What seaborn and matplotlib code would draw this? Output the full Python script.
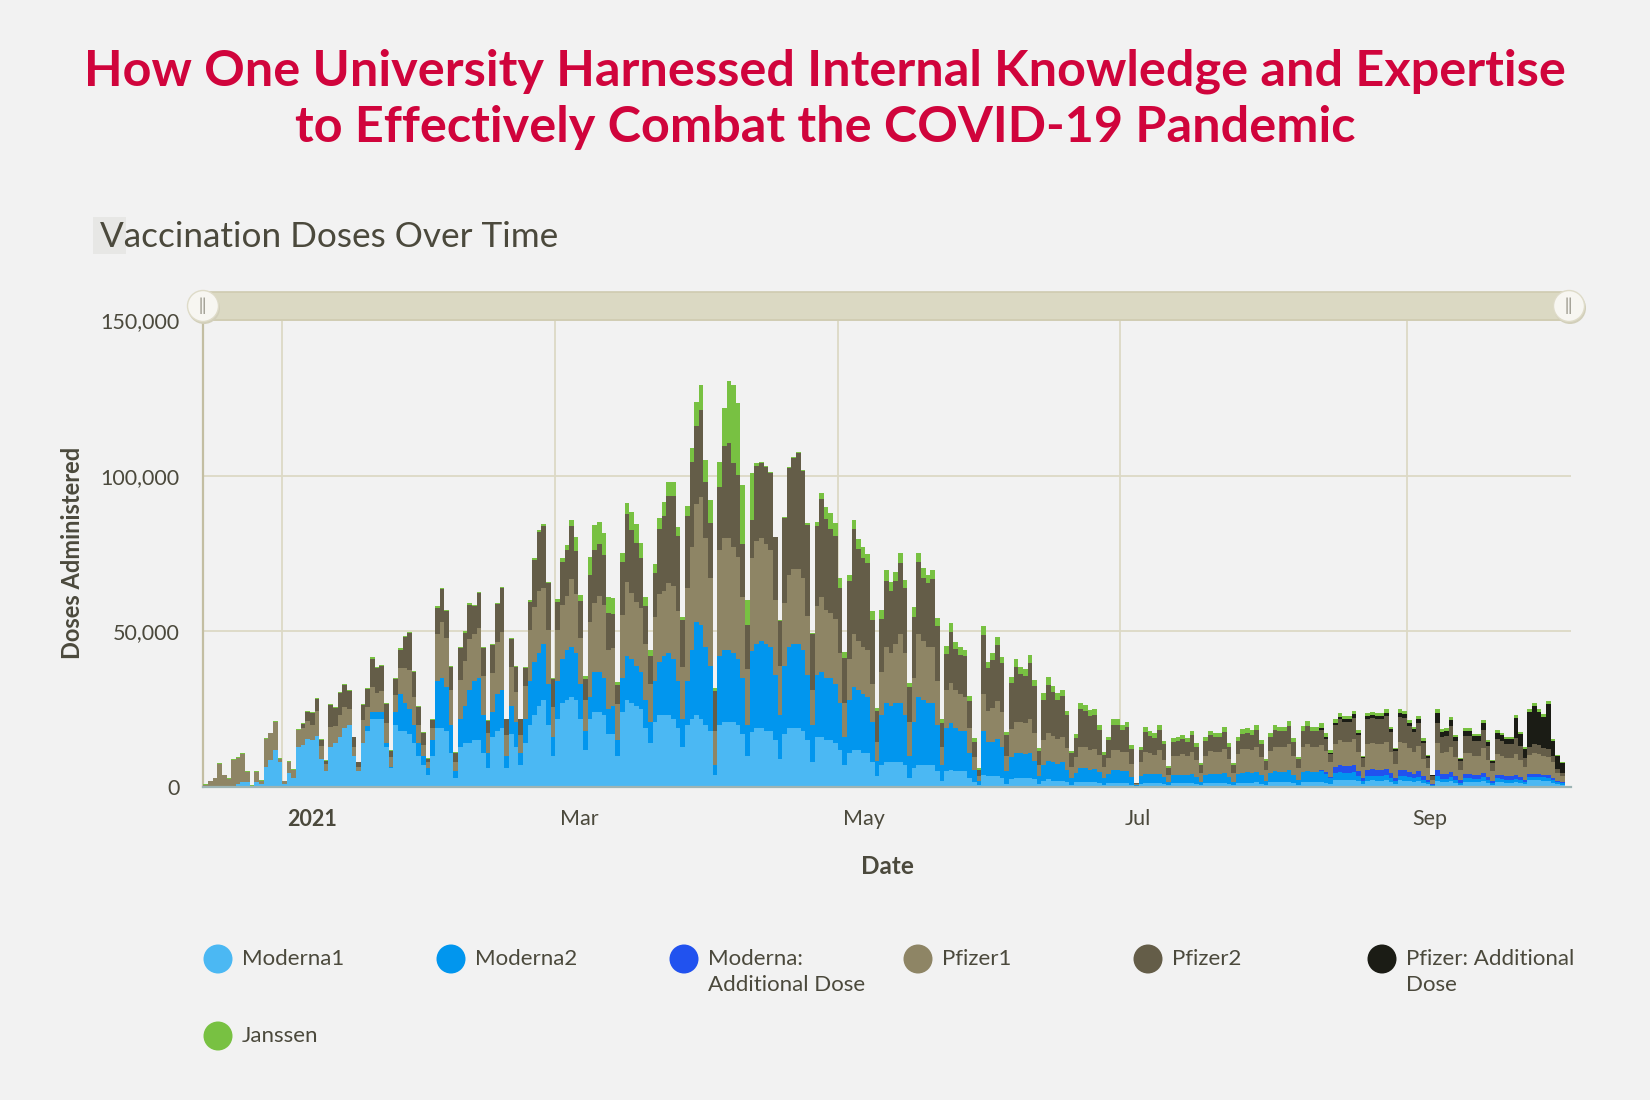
import numpy as np
import pandas as pd
import matplotlib
matplotlib.use("Agg")
import matplotlib.pyplot as plt
import matplotlib.dates as mdates
from matplotlib.patches import FancyBboxPatch, Circle, Rectangle
from matplotlib.transforms import ScaledTranslation
import seaborn as sns

sns.set_theme(style="white")
plt.rcParams["font.family"] = ["Lato", "DejaVu Sans"]

# ----------------------------------------------------------------------------
# Daily doses administered, in thousands.
# One row per week (Mon..Sun); first row starts Tue 15 Dec 2020, last value is Mon 4 Oct 2021
# ----------------------------------------------------------------------------
start_date = "2020-12-15"

moderna1 = [
    0, 0, 0, 0, 0, 0,
    0, 1, 1.5, 1.5, 0, 1.5, 1,
    6.5, 8.7, 11.9, 8, 1, 4.4, 3,
    13, 13.5, 15.5, 15, 16.5, 9, 5,
    13, 14, 16, 19, 20, 10, 5,
    14, 18, 22, 22, 22, 13, 6,
    20, 18, 18, 17, 14, 10, 7,
    4, 10, 19, 19, 18, 11, 3,
    13, 14, 14, 15, 15, 11, 6,
    16, 18, 19, 6, 17, 13, 7,
    14, 20, 23, 26, 28, 20, 10,
    22, 27, 28, 29, 28, 22, 12,
    22, 24, 24, 23, 17, 17, 10,
    24, 28, 27, 26, 25, 19, 14,
    21, 23, 23, 23, 22, 19, 13,
    20, 22, 23, 22, 20, 18, 4,
    20, 21, 21, 21, 20, 17, 10,
    17.7, 19, 19, 18, 18, 15, 9,
    17, 19, 19, 19, 18, 15, 8,
    16, 16, 15, 15, 14, 12, 7,
    11, 12, 12, 11, 11, 8, 3.5,
    7, 8, 8, 8, 8, 7, 3,
    6, 7, 7, 7, 7, 5, 2,
    5, 5.5, 5, 5, 5, 3, 1.5,
    0.5, 4, 3.5, 3.5, 3.5, 3, 1,
    2.5, 3, 3, 3, 3, 2.5, 1,
    2, 2.5, 2, 2, 2, 1.5, 0.8,
    1.5, 1.5, 1.5, 1.5, 1.5, 1.2, 0.8,
    1.2, 1.2, 1.2, 1.2, 1.2, 0.8, 0.2,
    1, 1.3, 1.3, 1.3, 1.3, 1, 0.5,
    1.2, 1.2, 1.2, 1.2, 1.3, 1, 0.5,
    1.2, 1.3, 1.3, 1.3, 1.3, 1, 0.5,
    1.3, 1.4, 1.4, 1.4, 1.5, 1.1, 0.6,
    1.5, 1.6, 1.6, 1.6, 1.7, 1.3, 0.8,
    1.6, 1.7, 1.6, 1.6, 1.7, 1.4, 1,
    2.2, 2.3, 2.2, 2.2, 2.3, 1.8, 1,
    2, 2.1, 2, 2, 2.1, 1.7, 1.1,
    2.1, 2, 1.8, 1.6, 1.9, 1.3, 0.9,
    0.4, 2, 1.5, 1.6, 1.8, 1.3, 0.8,
    1.6, 1.6, 1.5, 1.5, 1.8, 1.3, 0.8,
    1.6, 1.5, 1.4, 1.4, 1.5, 1.2, 0.9,
    2.1, 2.1, 2.1, 2, 1.9, 1.4, 0.9,
    0.7,
]

moderna2 = [
    0, 0, 0, 0, 0, 0,
    0, 0, 0, 0, 0, 0, 0,
    0, 0, 0, 0, 0, 0, 0,
    0, 0, 0, 0, 0, 0, 0,
    0, 0, 0, 0, 0, 0, 0,
    0, 1.5, 2, 2, 2, 1, 0.5,
    4, 12, 9, 8, 6, 4, 3,
    2, 5, 15, 16, 14, 9, 2,
    9, 12, 17, 19, 20, 12, 5,
    8, 12, 12, 4, 9, 8, 4,
    8, 14, 17, 17, 18, 13, 6,
    12, 14, 16, 16, 15, 11, 6,
    7, 13, 13, 12, 8, 9, 5,
    11, 14, 14, 13, 12, 9, 7,
    13, 17, 19, 20, 19, 15, 9,
    14, 22, 30, 30, 25, 21, 3,
    22, 23, 23, 22, 21, 18, 10,
    26, 27, 28, 28, 27, 21, 14,
    22, 26, 27, 27, 26, 21, 12,
    20, 21, 20, 20, 19, 15, 9,
    17, 20, 19, 19, 18, 13, 5,
    16, 19, 18, 19, 19, 16, 7,
    15, 22, 21, 20, 20, 15, 5,
    14, 15, 14, 13, 13, 8, 4,
    1.5, 14, 11, 11, 12, 10, 4,
    7, 8, 8, 7.5, 8, 6, 2.5,
    5, 6, 6, 5.5, 6, 4, 2,
    3, 4.5, 4.5, 4, 4.3, 3.5, 2,
    3, 4.3, 4.3, 4, 4, 2.5, 0.3,
    2.5, 3, 3, 2.8, 3, 2.2, 1,
    2.6, 2.7, 2.8, 2.6, 3, 2.2, 1,
    2.6, 3, 2.9, 2.9, 3.2, 2.3, 1.1,
    2.8, 3.2, 3.3, 3.2, 3.4, 2.6, 1.4,
    3, 3.4, 3.3, 3.3, 3.6, 2.6, 1.5,
    3.2, 3.5, 3.2, 3.2, 3.3, 2.8, 1.9,
    2.2, 2.4, 2.3, 2.3, 2.5, 1.8, 1,
    1.5, 1.5, 1.5, 1.5, 1.6, 1.2, 0.8,
    1.5, 1.5, 1.3, 1.2, 1.4, 1, 0.7,
    0.3, 1.5, 1.1, 1.1, 1.3, 1, 0.6,
    1.2, 1.2, 1.1, 1.1, 1.3, 1, 0.6,
    1.2, 1.1, 1, 1, 1.2, 1, 0.7,
    1.2, 1.2, 1.2, 1.1, 1.1, 0.8, 0.6,
    0.5,
]

pfizer1 = [
    0.8, 1.8, 2.8, 7.4, 3.7, 2.6,
    8.6, 8.2, 9.0, 3.4, 0.4, 3.4, 1.0,
    8.8, 8.5, 8.9, 1.1, 0.9, 3.7, 2.5,
    5.2, 5.6, 5.7, 4.9, 7.9, 4.2, 2.5,
    6.4, 5.5, 7.1, 6.7, 4.9, 3.0, 1.4,
    7.4, 6.1, 8.2, 6.3, 6.8, 6.6, 3.2,
    5.6, 8.1, 11.1, 12.5, 8.9, 5.8, 3.5,
    2, 4, 15, 18, 16, 11, 3,
    12.5, 14.5, 16.5, 15, 16.2, 12.6, 6.2,
    12.5, 16.7, 18.8, 6.7, 12.5, 9.6, 5.7,
    10.3, 16.5, 17.8, 19.9, 17.8, 17.5, 9.6,
    16.3, 17.4, 17.2, 21.8, 18.9, 14.7, 9.8,
    24, 22, 24.2, 23.5, 19, 18.6, 11.8,
    20.3, 23.8, 21.4, 20.5, 20.5, 18, 12,
    20.6, 22, 21.1, 22.5, 23.5, 22.6, 16.7,
    30, 33, 38, 41, 35, 28, 11,
    34, 36, 36, 34, 33, 26, 18,
    30, 33, 33, 32, 31, 24, 16,
    20, 23, 24, 24, 23, 19, 11,
    22, 24, 22, 21, 21, 16, 11,
    13, 17, 16, 15, 15, 12, 6,
    14, 18, 17, 19, 22, 20, 11,
    14, 20, 19, 18, 18, 14, 6,
    12, 13, 12, 12, 11, 8, 4,
    1.5, 12, 10, 11, 12, 11, 5,
    9, 10, 10, 10, 11, 9, 3.5,
    8, 9, 8.5, 8, 8, 7, 3.5,
    5, 7, 7, 6.5, 6.5, 5.5, 3.5,
    5, 6.4, 6.4, 6, 6, 4, 0.4,
    4.5, 7, 6.5, 6.2, 7.5, 5.5, 2.5,
    6, 6.2, 6.5, 6, 7, 5.5, 3,
    6.3, 7.2, 7, 7, 7.8, 5.6, 3,
    6.5, 7.5, 7.6, 7.4, 8, 6, 3.6,
    7, 8, 7.8, 7.8, 8.6, 6.2, 3.9,
    8, 8.7, 7.9, 7.9, 8.2, 6.9, 4.8,
    7.5, 8, 7.7, 7.7, 8.3, 6.3, 3.5,
    8.2, 8.4, 8.2, 8.2, 8.6, 6.7, 4.4,
    8.8, 8.6, 7.6, 6.9, 8.1, 5.6, 3.7,
    1.4, 8.5, 6.8, 7, 8.2, 6.2, 3.5,
    6.8, 6.8, 6.2, 6.2, 7.8, 5.5, 3.2,
    6.5, 6.2, 5.8, 5.8, 6.5, 5.5, 4,
    6.2, 6.7, 6.3, 6, 5.8, 5, 2.4,
    1.8,
]

pfizer2 = [
    0, 0, 0, 0, 0, 0,
    0, 0, 0, 0, 0, 0, 0,
    0, 0, 0, 0, 0, 0, 0,
    0, 1, 3, 4, 4, 2, 1,
    7, 6, 7, 7, 6, 3, 1.5,
    5, 6, 9, 8, 8, 6, 2,
    5, 6, 10, 12, 8, 6, 4,
    1, 2.6, 8.5, 10.5, 8.5, 7.6, 3,
    10, 9, 11, 9, 11, 9, 4,
    9, 12, 14, 5, 9, 8, 5,
    6, 9, 15, 19, 20, 15, 9,
    9, 14, 15, 17, 14, 12, 7,
    15, 17, 17, 16, 12, 11, 6,
    17, 22, 20, 19, 16, 12, 9,
    14, 21, 24, 28, 29, 24, 15,
    22.9, 27.5, 24.8, 28.1, 18, 17.7, 12.7,
    20.5, 29.6, 30.5, 27.1, 26.2, 17, 14,
    12, 24, 24.2, 24.7, 25, 20.2, 14.4,
    27.5, 34.6, 35.8, 37.4, 34.5, 29.2, 18.1,
    25.7, 31.5, 29, 26.9, 26.7, 21, 14.5,
    25.1, 33.8, 29.6, 28.7, 28, 20.6, 9.8,
    17, 21.1, 19.8, 20.2, 22.8, 21, 11,
    19.7, 23.3, 20.2, 20.5, 21.7, 17.7, 7.7,
    11.8, 16.3, 13.2, 12.5, 13, 8.7, 5.1,
    2, 18.7, 13.8, 15.4, 18.1, 15.9, 6.8,
    14.9, 17.5, 15.2, 15, 17.9, 14.9, 4.6,
    13.1, 15.4, 14, 12.6, 13.2, 10.5, 4.5,
    6.2, 12.1, 11.3, 10.9, 10.8, 8.2, 4,
    5.8, 8, 8, 7.1, 8.2, 5, 0.3,
    4, 6.5, 5.7, 5.5, 6.5, 5, 2.1,
    4.5, 4.6, 4.8, 4.5, 5.3, 4.3, 2.5,
    4.6, 5.1, 4.9, 4.9, 5.5, 4.1, 2.4,
    4.3, 4.9, 5, 4.8, 5.4, 4.2, 2.6,
    4.7, 5.4, 5.2, 5.2, 5.8, 4.3, 2.7,
    5.3, 5.8, 5.2, 5.2, 4.9, 3.7, 2.5,
    6, 6.7, 6.4, 6.4, 6.8, 5.3, 2.9,
    8, 8.1, 8, 8, 8.3, 6.6, 4.3,
    8.2, 8.1, 7.2, 6.4, 7.5, 5, 3.2,
    1, 6.5, 5.3, 5.3, 6.6, 5, 2.7,
    5.5, 5.5, 4.9, 4.9, 5.9, 4.3, 2.4,
    5, 4.8, 4.5, 4.5, 5.2, 4.4, 2.9,
    2.5, 2.7, 2.8, 2.6, 2.5, 2, 1.3,
    1,
]

janssen = [
    0.2, 0.2, 0.2, 0.2, 0.2, 0.2,
    0.3, 0.3, 0.3, 0.3, 0.1, 0.3, 0.2,
    0.3, 0.3, 0.4, 0.3, 0.1, 0.3, 0.2,
    0.3, 0.3, 0.3, 0.3, 0.3, 0.2, 0.2,
    0.3, 0.3, 0.3, 0.3, 0.3, 0.2, 0.2,
    0.3, 0.3, 0.4, 0.4, 0.4, 0.3, 0.2,
    0.3, 0.4, 0.4, 0.4, 0.4, 0.3, 0.3,
    0.2, 0.4, 0.5, 0.5, 0.5, 0.4, 0.3,
    0.5, 0.5, 0.5, 0.5, 0.5, 0.4, 0.3,
    0.5, 0.5, 0.5, 0.3, 0.5, 0.4, 0.3,
    0.4, 0.5, 0.6, 0.6, 0.7, 0.5, 0.4,
    1, 1, 1.5, 2, 4.5, 2, 1,
    6, 8, 7, 7, 5, 5, 1,
    3, 3.5, 6, 6, 5, 3, 2,
    3, 3.5, 4.5, 4.5, 4.5, 3, 1,
    3.4, 4.3, 8, 8, 7, 7.5, 1,
    8, 12, 20, 25, 23, 19, 8,
    15, 1, 0.3, 0.3, 0.3, 0.2, 0.2,
    0.3, 0.3, 0.3, 0.3, 0.3, 0.5, 0.3,
    1.5, 2, 4, 5, 4, 3, 2,
    2, 3, 3, 3.5, 3, 3, 1,
    3, 3.5, 3, 3, 3.5, 2.5, 1.5,
    3, 3, 3, 2.5, 3, 2.5, 1,
    2.5, 3, 2.5, 2.5, 2, 1.5, 1,
    0.5, 3, 2, 2, 2.5, 2, 1,
    2, 2.5, 2.5, 2.5, 2.5, 2, 1,
    2, 2.5, 2, 2, 2, 1.5, 0.8,
    1.2, 2, 2, 1.8, 1.8, 1.5, 1,
    1.2, 1.8, 1.8, 1.6, 1.6, 1.2, 0.2,
    1, 1.6, 1.5, 1.4, 1.6, 1.2, 0.6,
    1.3, 1.3, 1.4, 1.3, 1.5, 1.2, 0.6,
    1.3, 1.5, 1.4, 1.4, 1.6, 1.2, 0.6,
    1.3, 1.5, 1.5, 1.5, 1.6, 1.2, 0.7,
    1.3, 1.5, 1.5, 1.5, 1.6, 1.2, 0.8,
    1.5, 1.6, 1.5, 1.5, 1.5, 1.3, 0.9,
    1, 1.1, 1, 1, 1.1, 0.9, 0.5,
    1, 1, 1, 1, 1.1, 0.8, 0.5,
    1.1, 1, 0.9, 0.8, 1, 0.7, 0.5,
    0.2, 1, 0.8, 0.8, 1, 0.7, 0.4,
    0.8, 0.8, 0.7, 0.7, 1, 0.7, 0.4,
    0.8, 0.8, 0.7, 0.7, 0.9, 0.7, 0.5,
    0.8, 0.9, 0.8, 0.8, 0.9, 0.5, 0.3,
    0.3,
]

# additional doses only start on Fri 13 Aug 2021
booster_start = "2021-08-13"
moderna_add_late = [
    0.3, 0.5, 0.4,
    2, 2.3, 2.3, 2.3, 2.4, 1.5, 0.8,
    2, 2.1, 2, 2, 2.1, 1.6, 1,
    2, 2, 1.7, 1.5, 1.8, 1.2, 0.8,
    0.3, 2, 1.5, 1.5, 1.7, 1.2, 0.7,
    1.3, 1.3, 1.2, 1.2, 1.5, 1, 0.6,
    1.2, 1.1, 1, 1, 1.3, 1, 0.7,
    0.9, 1, 1, 0.9, 0.9, 0.8, 0.5,
    0.4,
]
pfizer_add_late = [
    0.5, 0.6, 0.4,
    0.8, 0.9, 0.9, 0.9, 1, 0.7, 0.4,
    1, 1, 1, 1, 1.1, 0.8, 0.5,
    1.2, 1.2, 1, 1, 1.1, 0.8, 0.5,
    0.3, 3.4, 1.5, 1.5, 1.8, 1.3, 0.7,
    1.6, 1.6, 1.4, 1.4, 2.2, 1.3, 0.7,
    2, 2, 1.8, 1.8, 6.5, 4, 3,
    11.2, 12.3, 10.7, 10, 14.5, 4.8, 4.3,
    3.4,
]

vaccines = ["Moderna1", "Moderna2", "Moderna: Additional Dose", "Pfizer1",
            "Pfizer2", "Pfizer: Additional Dose", "Janssen"]
colors = ["#4bb8f3", "#0196ee", "#2152ef", "#8e8565", "#645d48", "#1b1c15", "#78c142"]

# ----------------------------------------------------------------------------
# Long table for seaborn
# ----------------------------------------------------------------------------
dates = pd.date_range(start_date, periods=len(moderna1), freq="D")
n = len(dates)
pad = (pd.Timestamp(booster_start) - pd.Timestamp(start_date)).days
moderna_add = [0.0] * pad + moderna_add_late
pfizer_add = [0.0] * pad + pfizer_add_late

values = [moderna1, moderna2, moderna_add, pfizer1, pfizer2, pfizer_add, janssen]
for name, v in zip(vaccines, values):
    assert len(v) == n, (name, len(v), n)

day = mdates.date2num(dates)
df = pd.concat([pd.DataFrame({"day": day, "vaccine": name, "doses": np.array(v) * 1000})
                for name, v in zip(vaccines, values)], ignore_index=True)
edges = [float(d) for d in day] + [float(day[-1]) + 1]

BG = "#f2f2f2"
TXT = "#4b493c"
GRID = "#dcd9c5"

fig = plt.figure(figsize=(16.5, 11), dpi=100, facecolor=BG)
ax = fig.add_axes([203 / 1650, 1 - 787 / 1100, 1368 / 1650, 467 / 1100])
ax.set_facecolor(BG)

# seaborn stacks the first hue level on top, so pass the order top -> bottom
sns.histplot(data=df, x="day", weights="doses", hue="vaccine",
             hue_order=vaccines[::-1], palette=dict(zip(vaccines, colors)),
             multiple="stack", bins=edges, alpha=1, linewidth=0,
             legend=False, ax=ax, zorder=3)

ax.set_xlim(mdates.date2num(pd.Timestamp("2020-12-15")) - 0.1,
            mdates.date2num(pd.Timestamp("2021-10-06")) + 0.4)
ax.set_ylim(0, 150000)
ax.set_yticks([0, 50000, 100000, 150000], ["0", "50,000", "100,000", "150,000"])
xt = pd.to_datetime(["2021-01-01", "2021-03-01", "2021-05-01", "2021-07-01", "2021-09-01"])
ax.set_xticks(mdates.date2num(xt), ["2021", "Mar", "May", "Jul", "Sep"])
ax.set_xlabel("")
ax.set_ylabel("")

ax.grid(True, color=GRID, lw=1.3, zorder=0)
ax.set_axisbelow(True)
for s in ["top", "right"]:
    ax.spines[s].set_visible(False)
ax.spines["left"].set_color("#c3bea2")
ax.spines["left"].set_linewidth(1.6)
ax.spines["bottom"].set_color("#9db4b4")
ax.spines["bottom"].set_linewidth(1.6)
ax.spines["bottom"].set_zorder(5)
ax.tick_params(axis="y", length=6, width=1.3, color=GRID, pad=11,
               labelsize=15.5, labelcolor=TXT)
ax.tick_params(axis="x", length=7, width=1.3, color=GRID, pad=9,
               labelsize=15.5, labelcolor=TXT)
shift = ScaledTranslation(5 / 100, 0, fig.dpi_scale_trans)
for lbl in ax.get_xticklabels():
    lbl.set_ha("left")
    lbl.set_transform(lbl.get_transform() + shift)
ax.get_xticklabels()[0].set_fontweight("bold")

# ----------------------------------------------------------------------------
# Overlay in pixel coordinates: titles, range slider, legend
# ----------------------------------------------------------------------------
ov = fig.add_axes([0, 0, 1, 1], zorder=10)
ov.set_xlim(0, 1650)
ov.set_ylim(1100, 0)
ov.axis("off")
ov.patch.set_alpha(0)

RED = "#d0043c"
ov.text(825, 71, "How One University Harnessed Internal Knowledge and Expertise",
        ha="center", va="center", fontsize=36.3, fontweight="bold", color=RED)
ov.text(825, 127, "to Effectively Combat the COVID-19 Pandemic",
        ha="center", va="center", fontsize=36.3, fontweight="bold", color=RED)

ov.add_patch(Rectangle((93, 217), 33, 37, facecolor="#e7e7e5", edgecolor="none"))
ov.text(100, 237, "Vaccination Doses Over Time", ha="left", va="center",
        fontsize=25.3, color=TXT)

ov.text(72, 553, "Doses Administered", rotation=90, ha="center", va="center",
        fontsize=17, fontweight="bold", color=TXT)
ov.text(887, 866, "Date", ha="center", va="center", fontsize=17.5,
        fontweight="bold", color=TXT)

# range slider above the plot
ov.add_patch(FancyBboxPatch((196, 292), 1380, 28,
                            boxstyle="round,pad=0,rounding_size=6",
                            facecolor="#dbd9c3", edgecolor="#cfcbb0", lw=1.2))
for hx in (203, 1569):
    ov.add_patch(Circle((hx + 1, 308), 16, facecolor="#d2cfba", edgecolor="none"))
    ov.add_patch(Circle((hx, 306), 15.5, facecolor="#f7f6f1", edgecolor="#dedbc8", lw=1))
    ov.text(hx, 306, "||", ha="center", va="center", fontsize=12, color="#8c8a7c")

# legend
leg_x = [218, 451, 684, 918, 1148, 1382, 218]
leg_y = [959, 959, 959, 959, 959, 959, 1036]
leg_labels = ["Moderna1", "Moderna2", "Moderna:\nAdditional Dose", "Pfizer1",
              "Pfizer2", "Pfizer: Additional\nDose", "Janssen"]
for cx, cy, lab, col in zip(leg_x, leg_y, leg_labels, colors):
    ov.add_patch(Circle((cx, cy), 14.5, facecolor=col, edgecolor="none"))
    for k, line in enumerate(lab.split("\n")):
        ov.text(cx + 24, cy + 26 * k, line, ha="left", va="center",
                fontsize=16, color=TXT)

fig.savefig("out.png", dpi=100, facecolor=BG)
